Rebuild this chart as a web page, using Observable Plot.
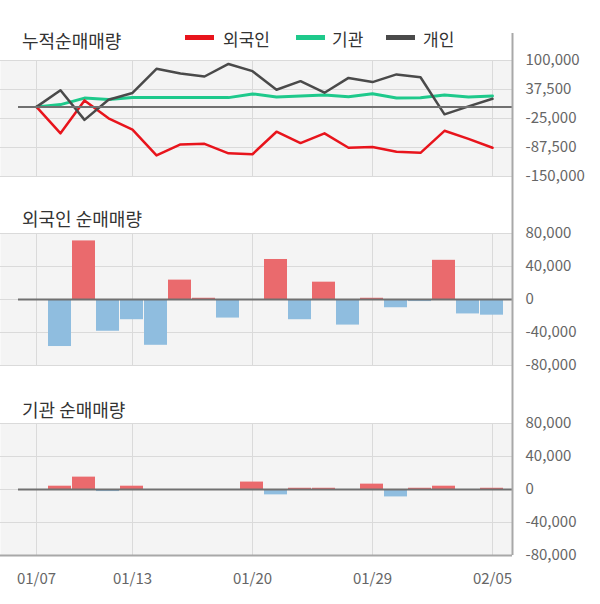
<!DOCTYPE html>
<html><head><meta charset="utf-8">
<script src="https://cdn.jsdelivr.net/npm/d3@7"></script>
<script src="https://cdn.jsdelivr.net/npm/@observablehq/plot@0.6"></script>
<style>
body{margin:0;background:#fff;font-family:"Noto Sans CJK KR","Noto Sans",sans-serif;}
#wrap{position:relative;width:600px;height:604px;overflow:hidden;background:#fff}
.t{position:absolute;left:22px;font-size:18px;color:#333;line-height:18px;white-space:nowrap}
.panel{position:absolute;left:0}
.lg{position:absolute;top:30px;font-size:17px;color:#333;line-height:18px;white-space:nowrap}
.sw{position:absolute;top:35px;width:29px;height:5px}
</style></head><body>
<div id="wrap">
  <div class="panel" id="p1" style="top:0"></div>
  <div class="panel" id="p2" style="top:200px"></div>
  <div class="panel" id="p3" style="top:390px"></div>
  <div class="t" style="top:31px">누적순매매량</div>
  <div class="t" style="top:209px">외국인 순매매량</div>
  <div class="t" style="top:400px">기관 순매매량</div>
  <div class="sw" style="left:185px;background:#e8141c"></div><div class="lg" style="left:223px">외국인</div>
  <div class="sw" style="left:296px;background:#1ec98b"></div><div class="lg" style="left:332px">기관</div>
  <div class="sw" style="left:386px;background:#4a4a4a"></div><div class="lg" style="left:423px">개인</div>
</div>
<script>
const dates = ["01/07","01/08","01/09","01/10","01/13","01/14","01/15","01/16","01/17","01/20",
               "01/21","01/22","01/23","01/28","01/29","01/30","01/31","02/03","02/04","02/05"];
const tickIdx = [0, 4, 9, 14, 19];
const foreignDaily = [0, -57000, 71000, -38500, -24500, -55500, 23500, 1500, -22500, 0,
                      48500, -24500, 21000, -31000, 1500, -10000, -2500, 47500, -17500, -19000];
const instDaily = [0, 4000, 15000, -2500, 4000, 0, 0, 0, 0, 9000,
                   -6500, 1500, 1500, 0, 6500, -9000, 1500, 4000, 0, 1500];
const foreignCum = [0, -57000, 14000, -24500, -49000, -104500, -81000, -79500, -100000, -102000,
                    -53500, -78000, -57000, -88000, -86500, -96500, -99000, -51500, -69000, -88000];
const instCum = [0, 5000, 19000, 16000, 20500, 20000, 20000, 20000, 20000, 28000,
                 21500, 23500, 25500, 22000, 28500, 19000, 19500, 25500, 21500, 23500];
const indivCum = [0, 36000, -28000, 15500, 30000, 82000, 72000, 65500, 92500, 77000,
                  37000, 55500, 30500, 62500, 53500, 70000, 64000, -16000, 1000, 17500];
const cumTicks = [-150000, -87500, -25000, 37500, 100000];
const barTicks = [-80000, -40000, 0, 40000, 80000];

const XMAX = 19 + 5/6;
const fmt = d => d.toLocaleString("en-US");
const FONT = '"Noto Sans CJK KR","Noto Sans",sans-serif';

function panel(opts) {
  const {height, mt, mb, domain, ticks, marks, vTop, vBottom, bottomDark, xAxis} = opts;
  return Plot.plot({
    width: 600, height, marginLeft: 0, marginRight: 88, marginTop: mt, marginBottom: mb,
    x: {domain: [-1.5, XMAX], axis: null, label: null},
    y: {domain, axis: null, label: null},
    color: {type: "identity"},
    style: {background: "transparent", fontFamily: FONT, overflow: "visible"},
    marks: [
      Plot.frame({fill: "#f4f4f4", stroke: "none"}),
      Plot.ruleX(tickIdx, {stroke: "#dadada", strokeWidth: 1}),
      Plot.ruleY(ticks, {stroke: "#dadada", strokeWidth: 1}),
      ...marks,
      Plot.ruleY([0], {stroke: "#707070", strokeWidth: 2, insetLeft: 18}),
      ...(bottomDark ? [Plot.ruleY([domain[0]], {stroke: "#a8a8a8", strokeWidth: 2})] : []),
      Plot.axisY(ticks, {anchor: "right", tickSize: 0, tickPadding: 13, tickFormat: fmt, label: null,
                         fill: "#666", fontSize: 15, fontFamily: FONT}),
      ...(xAxis ? [Plot.axisX(tickIdx, {anchor: "bottom", tickSize: 0, tickPadding: 18, label: null,
                         tickFormat: i => dates[i], fill: "#666", fontSize: 15, fontFamily: FONT})] : []),
      Plot.ruleX([XMAX], {stroke: "#a8a8a8", strokeWidth: 2, insetTop: -vTop, insetBottom: -vBottom})
    ]
  });
}

const cumData = dates.map((d, i) => ({i, f: foreignCum[i], g: instCum[i], p: indivCum[i]}));
const fBars = dates.map((d, i) => ({i, v: foreignDaily[i]})).filter(d => d.v !== 0);
const iBars = dates.map((d, i) => ({i, v: instDaily[i]})).filter(d => d.v !== 0);
const barOpts = {x1: d => d.i - 0.5, x2: d => d.i + 0.5, insetRight: 1, y1: 0, y2: "v",
                 fill: d => d.v > 0 ? "#ea6a6d" : "#8fbddf"};

document.getElementById("p1").append(panel({
  height: 200, mt: 60, mb: 24, domain: [-150000, 100000], ticks: cumTicks, vTop: 27, vBottom: 24,
  marks: [
    Plot.line(cumData, {x: "i", y: "g", stroke: "#1ec98b", strokeWidth: 3}),
    Plot.line(cumData, {x: "i", y: "f", stroke: "#e8141c", strokeWidth: 2.5}),
    Plot.line(cumData, {x: "i", y: "p", stroke: "#4a4a4a", strokeWidth: 2.5})
  ]
}));
document.getElementById("p2").append(panel({
  height: 190, mt: 33, mb: 25, domain: [-80000, 80000], ticks: barTicks, vTop: 33, vBottom: 25,
  marks: [Plot.rect(fBars, barOpts)]
}));
document.getElementById("p3").append(panel({
  height: 214, mt: 33, mb: 49, domain: [-80000, 80000], ticks: barTicks, vTop: 33, vBottom: 0,
  bottomDark: true, xAxis: true,
  marks: [Plot.rect(iBars, barOpts)]
}));
</script>
</body></html>
